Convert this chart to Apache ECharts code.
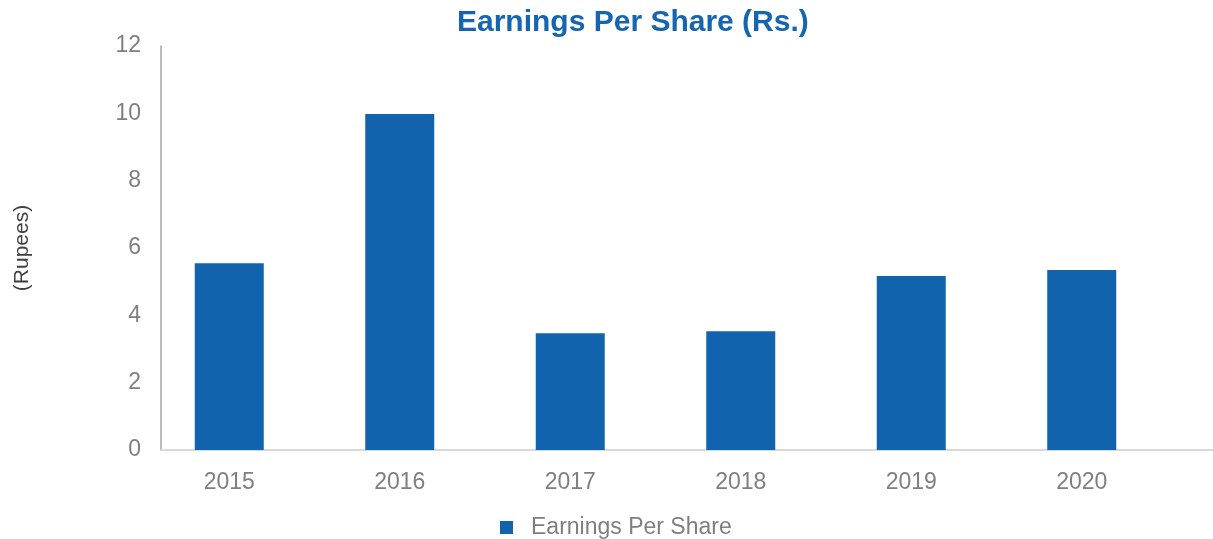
<!DOCTYPE html>
<html>
<head>
<meta charset="utf-8">
<script src="https://cdn.jsdelivr.net/npm/echarts@6/dist/echarts.min.js"></script>
<style>
    html, body { margin: 0; padding: 0; background: #fff; }
    #chart { width: 1213px; height: 539px; }
</style>
</head>
<body>
<div id="chart"></div>
<script>
// 数据
const years = ['2015', '2016', '2017', '2018', '2019', '2020']
const eps = [5.55, 9.98, 3.47, 3.53, 5.17, 5.35]
const yTicks = { min: 0, max: 12, interval: 2 }

const FONT = '"Liberation Sans", Arial, sans-serif'
const BLUE = '#1163ad'

const chart = echarts.init(document.getElementById('chart'))
chart.setOption({
    animation: false,
    title: {
        text: 'Earnings Per Share (Rs.)',
        left: 452,
        top: 3,
        textStyle: { color: '#1565b0', fontSize: 30, fontWeight: 'bold', fontFamily: FONT }
    },
    legend: {
        left: 495,
        top: 511,
        icon: 'rect',
        itemWidth: 13,
        itemHeight: 13,
        itemGap: 10,
        textStyle: { color: '#7f7f7f', fontSize: 23, fontFamily: FONT, padding: [0, 0, 0, 13] },
        data: ['Earnings Per Share']
    },
    grid: [
        { left: 144, right: 46, top: 46, bottom: 89, outerBoundsMode: 'none' },
        // 只用来画延长的底部轴线
        { left: 161, right: 0, top: 46, bottom: 89, outerBoundsMode: 'none' }
    ],
    xAxis: [{
        type: 'category',
        data: years,
        gridIndex: 0,
        axisLine: { show: false },
        axisTick: { show: false },
        axisLabel: { color: '#7f7f7f', fontSize: 23, fontFamily: FONT, margin: 21 }
    }, {
        type: 'value',
        gridIndex: 1,
        axisLine: { show: true, onZero: false, lineStyle: { color: '#d9d9d9', width: 2 } },
        axisTick: { show: false },
        axisLabel: { show: false },
        splitLine: { show: false }
    }],
    yAxis: [{
        type: 'value',
        gridIndex: 0,
        min: yTicks.min,
        max: yTicks.max,
        interval: yTicks.interval,
        offset: -17,
        name: '(Rupees)',
        nameLocation: 'middle',
        nameRotate: 90,
        nameGap: 128,
        nameTextStyle: { color: '#404040', fontSize: 21, fontFamily: FONT },
        axisLine: { show: true, lineStyle: { color: '#a6a6a6', width: 1.5 } },
        axisTick: { show: false },
        axisLabel: { color: '#7f7f7f', fontSize: 23, fontFamily: FONT, margin: 20 },
        splitLine: { show: false }
    }, {
        type: 'value',
        gridIndex: 1,
        show: false
    }],
    series: [{
        name: 'Earnings Per Share',
        type: 'bar',
        xAxisIndex: 0,
        yAxisIndex: 0,
        data: eps,
        barWidth: 69,
        itemStyle: { color: BLUE }
    }]
})
</script>
</body>
</html>
